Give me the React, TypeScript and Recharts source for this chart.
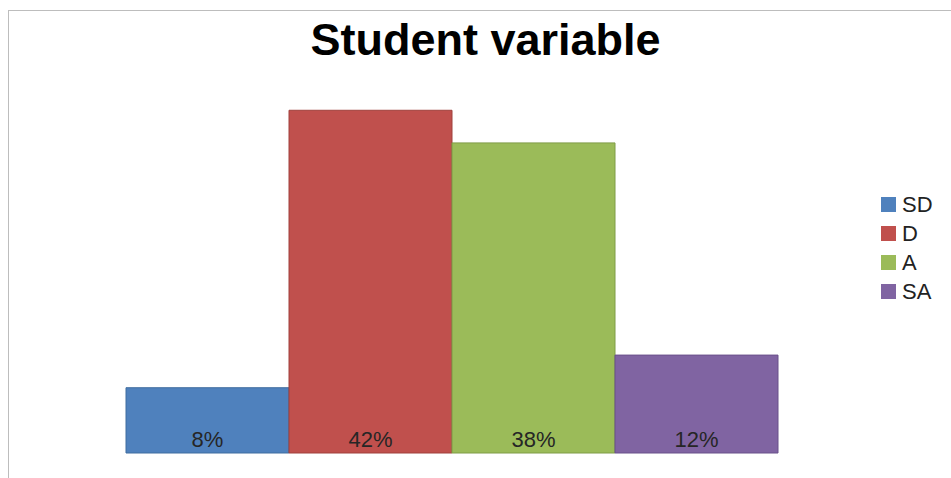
import React from "react";
import { BarChart, Bar, XAxis, YAxis, LabelList } from "recharts";

// Response shares for the student variable
const categories = ["SD", "D", "A", "SA"];
const shares = [8, 42, 38, 12];
const fills = ["#4F81BD", "#C0504D", "#9BBB59", "#8064A2"];
const strokes = ["#3F6C9F", "#A0403D", "#7F9C47", "#69508A"];

const row: Record<string, number | string> = { name: "Student variable" };
categories.forEach((c, i) => {
  row[c] = shares[i];
});
const data = [row];

const FONT = "'Liberation Sans', Arial, sans-serif";

const LegendBox = () => (
  <div style={{ fontFamily: FONT, fontSize: 22, color: "#222" }}>
    {categories.map((c, i) => (
      <div key={c} style={{ display: "flex", alignItems: "center", height: 29 }}>
        <span
          style={{
            display: "inline-block",
            width: 15,
            height: 15,
            background: fills[i],
            marginRight: 6,
          }}
        />
        <span>{c}</span>
      </div>
    ))}
  </div>
);

export default function App() {
  return (
    <div style={{ position: "absolute", left: 0, top: 0, width: 951, height: 478, background: "#fff", overflow: "hidden" }}>
      <div
        style={{
          position: "absolute",
          left: 8,
          top: 10,
          width: 960,
          height: 480,
          borderLeft: "1px solid #bdbdbd",
          borderTop: "1px solid #bdbdbd",
        }}
      />
      <div
        style={{
          position: "absolute",
          left: 0,
          top: 14,
          width: 971,
          textAlign: "center",
          fontFamily: FONT,
          fontWeight: "bold",
          fontSize: 45,
          color: "#000",
        }}
      >
        Student variable
      </div>
      <div style={{ position: "absolute", left: 0, top: 0 }}>
        <BarChart
          width={951}
          height={478}
          data={data}
          margin={{ top: 45, right: 174, bottom: 25, left: 126 }}
          barCategoryGap={0}
          barGap={0}
        >
          <XAxis dataKey="name" hide />
          <YAxis hide domain={[0, 50]} />
          {categories.map((c, i) => (
            <Bar
              key={c}
              dataKey={c}
              fill={fills[i]}
              stroke={strokes[i]}
              strokeWidth={1}
              isAnimationActive={false}
            >
              <LabelList
                dataKey={c}
                position="insideBottom"
                offset={6}
                formatter={(v: number) => `${v}%`}
                style={{ fontFamily: FONT, fontSize: 22, fill: "#262626" }}
              />
            </Bar>
          ))}
        </BarChart>
      </div>
      <div style={{ position: "absolute", left: 881, top: 190 }}>
        <LegendBox />
      </div>
    </div>
  );
}
